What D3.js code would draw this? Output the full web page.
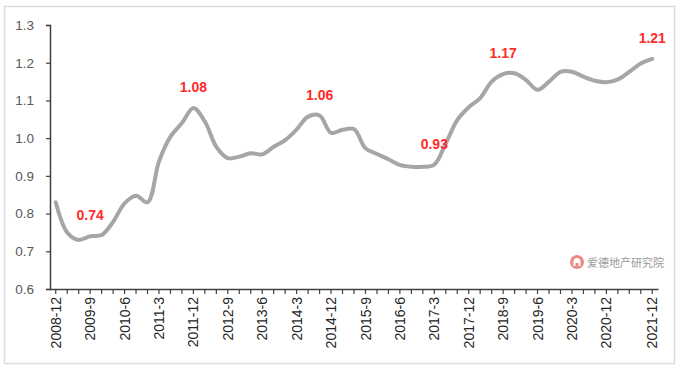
<!DOCTYPE html>
<html lang="zh">
<head>
<meta charset="UTF-8">
<title>Chart</title>
<style>
  body { margin: 0; background: #fff; }
  svg { display: block; font-family: "Liberation Sans", Arial, sans-serif; }
</style>
<script src="https://d3js.org/d3.v7.min.js"></script>
</head>
<body>
<div id="chart"></div>
<script>
// quarterly categories
var categories = [
  "2008-12",
  "2009-3","2009-6","2009-9","2009-12",
  "2010-3","2010-6","2010-9","2010-12",
  "2011-3","2011-6","2011-9","2011-12",
  "2012-3","2012-6","2012-9","2012-12",
  "2013-3","2013-6","2013-9","2013-12",
  "2014-3","2014-6","2014-9","2014-12",
  "2015-3","2015-6","2015-9","2015-12",
  "2016-3","2016-6","2016-9","2016-12",
  "2017-3","2017-6","2017-9","2017-12",
  "2018-3","2018-6","2018-9","2018-12",
  "2019-3","2019-6","2019-9","2019-12",
  "2020-3","2020-6","2020-9","2020-12",
  "2021-3","2021-6","2021-9","2021-12"
];

var values = [
  0.83,
  0.75, 0.73, 0.74, 0.743,
  0.778, 0.827, 0.847, 0.83,
  0.938, 1.004, 1.04, 1.08,
  1.044, 0.977, 0.947, 0.951,
  0.96, 0.957, 0.977, 0.995,
  1.023, 1.057, 1.06, 1.014,
  1.022, 1.024, 0.973, 0.958,
  0.944, 0.929, 0.924, 0.924,
  0.93, 0.986, 1.048, 1.082,
  1.106, 1.15, 1.17, 1.172,
  1.154, 1.128, 1.15, 1.176,
  1.176, 1.163, 1.152, 1.148,
  1.156, 1.176, 1.198, 1.21
];

var shownLabels = ["2008-12","2009-9","2010-6","2011-3","2011-12","2012-9","2013-6",
  "2014-3","2014-12","2015-9","2016-6","2017-3","2017-12","2018-9","2019-6",
  "2020-3","2020-12","2021-12"];

var annotated = ["2009-9","2011-12","2014-9","2017-3","2018-9","2021-12"];

var yTicks = [0.6, 0.7, 0.8, 0.9, 1.0, 1.1, 1.2, 1.3];

var width = 683, height = 371;
var margin = {top: 25, right: 25, bottom: 82, left: 50};

var svg = d3.select("#chart").append("svg")
    .attr("width", width)
    .attr("height", height);

svg.append("rect")
    .attr("x", 4.5).attr("y", 6.5)
    .attr("width", 670).attr("height", 357)
    .attr("fill", "#fff")
    .attr("stroke", "#dcdcdc")
    .attr("stroke-width", 1.5);

var x = d3.scaleBand()
    .domain(categories)
    .range([margin.left, width - margin.right])
    .padding(0);

var y = d3.scaleLinear()
    .domain([0.6, 1.3])
    .range([height - margin.bottom, margin.top]);

var cx = function(c) { return x(c) + x.bandwidth() / 2; };

// y axis
var yAxis = svg.append("g")
    .attr("transform", "translate(" + margin.left + ",0)")
    .call(d3.axisLeft(y).tickValues(yTicks).tickFormat(d3.format(".1f")).tickSize(4).tickPadding(12));
yAxis.select(".domain").attr("stroke", "#404040").attr("stroke-width", 1.5);
yAxis.selectAll(".tick line").attr("stroke", "#404040").attr("stroke-width", 1.2);
yAxis.selectAll("text")
    .attr("fill", "#595959")
    .style("font-size", "13.5px");

// x axis
var xAxis = svg.append("g")
    .attr("transform", "translate(0," + (height - margin.bottom) + ")")
    .call(d3.axisBottom(x)
        .tickFormat(function(d) { return shownLabels.indexOf(d) >= 0 ? d : ""; })
        .tickSize(5).tickSizeOuter(0).tickPadding(8));
xAxis.select(".domain").attr("stroke", "#404040").attr("stroke-width", 1.5);
xAxis.selectAll(".tick line").attr("stroke", "#404040").attr("stroke-width", 1.2);
xAxis.selectAll("text")
    .attr("fill", "#262626")
    .style("font-size", "14px")
    .attr("transform", "rotate(-90)")
    .attr("text-anchor", "end")
    .attr("x", -8)
    .attr("y", 0)
    .attr("dy", "0.36em");

// line
var line = d3.line()
    .x(function(d, i) { return cx(categories[i]); })
    .y(function(d) { return y(d); })
    .curve(d3.curveCatmullRom.alpha(0.5));

svg.append("path")
    .datum(values)
    .attr("fill", "none")
    .attr("stroke", "#a6a6a6")
    .attr("stroke-width", 4)
    .attr("stroke-linecap", "round")
    .attr("d", line);

// labels
svg.selectAll(".lbl")
    .data(annotated)
    .enter().append("text")
    .attr("class", "lbl")
    .attr("x", function(c) { return cx(c); })
    .attr("y", function(c) { return y(values[categories.indexOf(c)]) - 16; })
    .attr("text-anchor", "middle")
    .attr("fill", "#ff2a2a")
    .style("font-size", "14px")
    .style("font-weight", "bold")
    .text(function(c) { return values[categories.indexOf(c)].toFixed(2); });

// watermark
var wm = svg.append("g").attr("transform", "translate(577,262)");
wm.append("circle").attr("r", 7).attr("fill", "#ec8a86");
wm.append("path")
    .attr("d", "M-3.5,4 L-3.5,-0.5 A3.5,3.5 0 0 1 3.5,-0.5 L3.5,4 L1.5,4 L1.5,1 L-1.5,1 L-1.5,4 Z")
    .attr("fill", "#fff");
svg.append("text")
    .attr("x", 587).attr("y", 267)
    .attr("fill", "#9a9a9a")
    .style("font-family", "'Noto Sans CJK SC', sans-serif")
    .style("font-size", "11px")
    .text("爱德地产研究院");
</script>
</body>
</html>
